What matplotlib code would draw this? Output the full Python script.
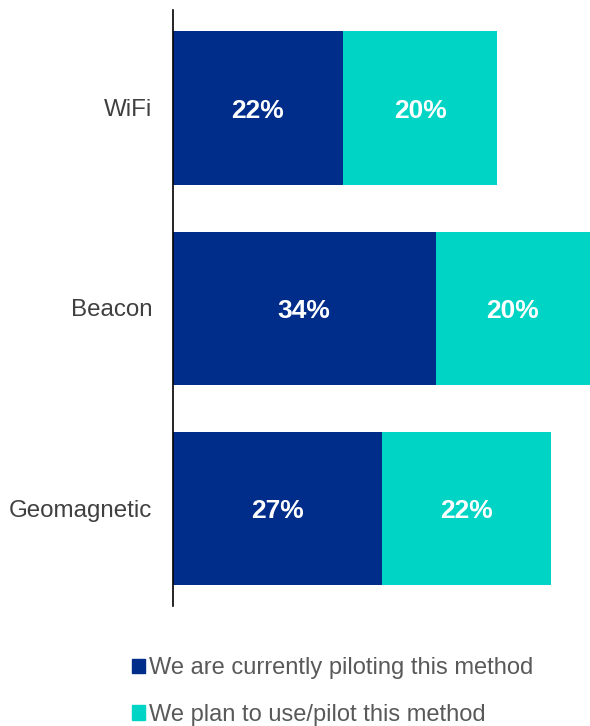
import numpy as np
import matplotlib.pyplot as plt
from matplotlib.patches import Patch

plt.rcParams['font.family'] = ['Liberation Sans', 'DejaVu Sans']

# Datos
categorias = ['WiFi', 'Beacon', 'Geomagnetic']
piloting = [22, 34, 27]
plan = [20, 20, 22]
series = ['We are currently piloting this method', 'We plan to use/pilot this method']
colores = ['#002C8A', '#00D4C4']

fig = plt.figure(figsize=(5.9, 7.26), dpi=100)
ax = fig.add_axes([173 / 590, 1 - 606 / 726, 1 - 173 / 590, 596 / 726])

y = np.arange(len(categorias))[::-1]
alto = 0.765
ax.barh(y, piloting, height=alto, color=colores[0])
ax.barh(y, plan, left=piloting, height=alto, color=colores[1])

for yi, a, b in zip(y, piloting, plan):
    ax.text(a / 2, yi, f'{a}%', ha='center', va='center_baseline', color='white',
            fontsize=19, fontweight='bold')
    ax.text(a + b / 2, yi, f'{b}%', ha='center', va='center_baseline', color='white',
            fontsize=19, fontweight='bold')

ax.set_xlim(0, 54)
ax.set_ylim(-0.49, 2.49)
ax.set_yticks(y)
ax.set_yticklabels(categorias, fontsize=17.4, color='#404040')
ax.tick_params(axis='y', length=0, pad=15)
ax.set_xticks([])
for s in ['top', 'right', 'bottom']:
    ax.spines[s].set_visible(False)
ax.spines['left'].set_color('black')
ax.spines['left'].set_linewidth(1.2)

handles = [Patch(color=c) for c in colores]
fig.legend(handles, series, loc='upper left', bbox_to_anchor=(132 / 590, 1 - 657 / 726),
           frameon=False, fontsize=17, labelcolor='#595959',
           borderpad=0, borderaxespad=0,
           handlelength=0.55, handleheight=0.55, handletextpad=0.17, labelspacing=1.05)

fig.savefig('out.png', dpi=100)
